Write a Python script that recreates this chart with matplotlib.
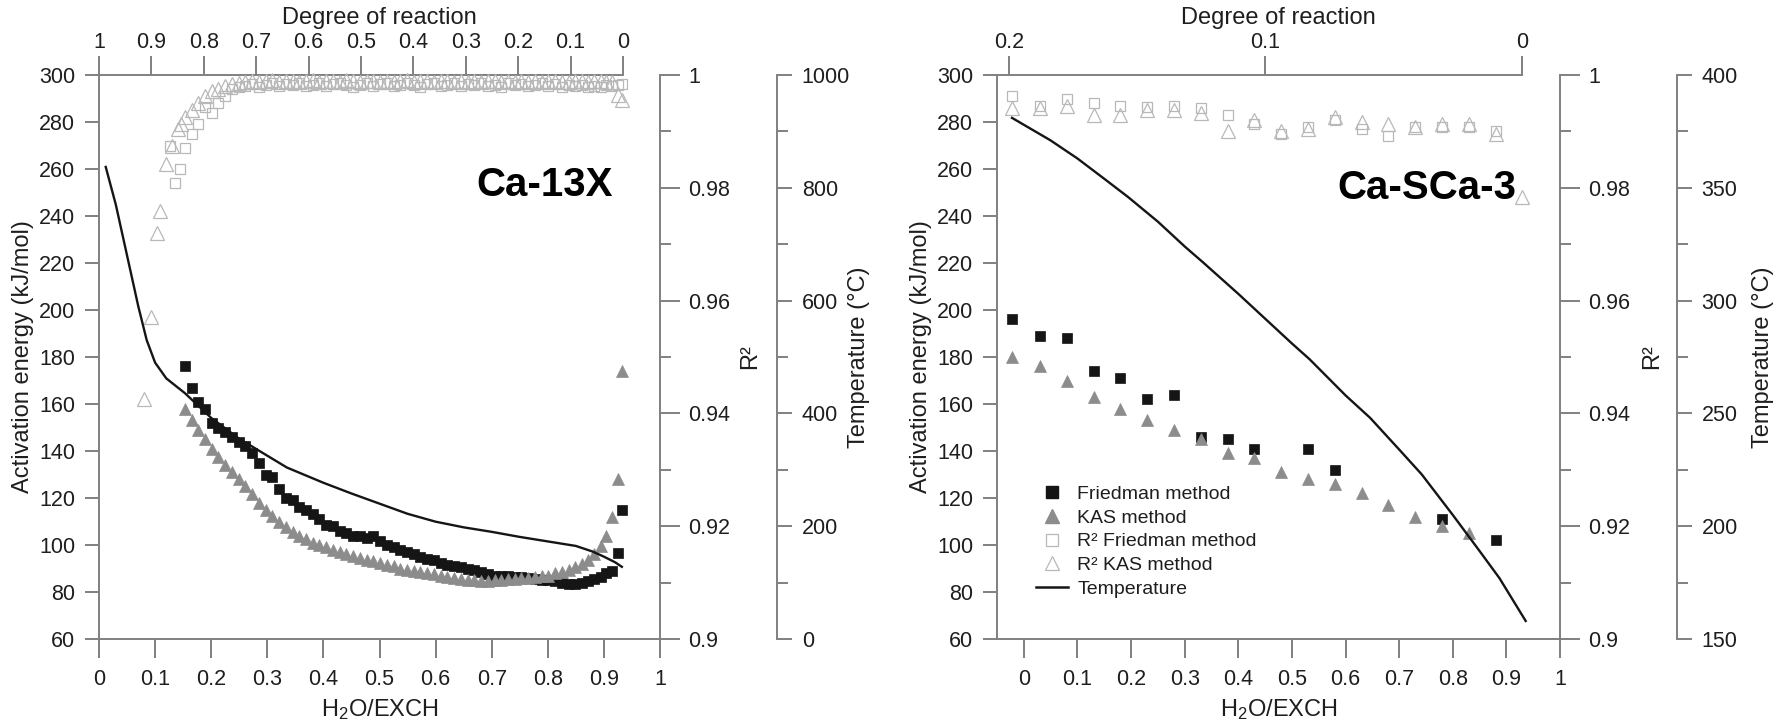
import numpy as np
import matplotlib
matplotlib.use("Agg")
import matplotlib.pyplot as plt
from matplotlib import font_manager
from matplotlib.lines import Line2D
from matplotlib.ticker import FuncFormatter

# --- fonts: the original uses a condensed Arial-like face ---
_names = {f.name for f in font_manager.fontManager.ttflist}
if "Liberation Sans Narrow" in _names:
    FONT, SCALE = "Liberation Sans Narrow", 1.15
else:
    FONT, SCALE = "Liberation Sans", 1.0
plt.rcParams["font.family"] = [FONT, "DejaVu Sans"]
plt.rcParams["mathtext.fontset"] = "custom"
plt.rcParams["mathtext.rm"] = FONT
plt.rcParams["mathtext.it"] = FONT

FS_TICK = 15.5 * SCALE
FS_LAB = 17 * SCALE
FS_YLAB = 17 * SCALE
FS_LEG = 14 * SCALE
FS_TAG = 29 * SCALE

# === Ca-13X (left panel) ===
x13 = [0.153, 0.165, 0.177, 0.189, 0.201, 0.213, 0.225, 0.237, 0.249, 0.261,
       0.273, 0.285, 0.297, 0.309, 0.321, 0.333, 0.345, 0.357, 0.369, 0.381,
       0.393, 0.405, 0.417, 0.429, 0.441, 0.453, 0.465, 0.477, 0.489, 0.501,
       0.513, 0.525, 0.537, 0.549, 0.561, 0.573, 0.585, 0.597, 0.609, 0.621,
       0.633, 0.645, 0.657, 0.669, 0.681, 0.693, 0.705, 0.717, 0.729, 0.741,
       0.753, 0.765, 0.777, 0.789, 0.801, 0.813, 0.825, 0.837, 0.849, 0.861,
       0.872, 0.883, 0.894, 0.904, 0.915, 0.926, 0.933]
fried13 = [176, 167, 161, 158, 152, 150, 148, 146, 144, 142,
           139, 135, 130, 129, 124, 120, 119, 116, 115, 113,
           111, 108.5, 108, 106, 105, 104, 104, 103, 104, 101.5,
           100, 99, 98, 97, 96, 95, 94, 93.5, 92.5, 91.5,
           91, 90.5, 90, 89.5, 88.5, 87.5, 87, 87, 87, 86.5,
           86.5, 86, 85.5, 85, 85, 84.5, 84, 83.5, 83.5, 84,
           84.5, 85.5, 86.5, 88, 89, 96.5, 115]
kas13 = [158, 153, 149, 145, 141, 137.5, 134, 131, 128, 125,
         121.5, 118, 115, 112.5, 110, 107.5, 105.5, 104, 102.5, 101,
         100, 99, 98, 97, 96, 95.5, 94.5, 93.5, 93, 92.5,
         91.5, 91, 90, 89.5, 89, 88.5, 88, 87.5, 87, 86.5,
         86, 85.5, 85, 85, 84.5, 84.5, 85, 85, 85.5, 85.5,
         86, 86, 86.5, 87, 87, 88, 88.5, 89.5, 90.5, 92,
         93.5, 96, 99.5, 104, 112, 128, 174]

r2kas13_x = [0.081, 0.092, 0.103, 0.109, 0.120, 0.130, 0.140, 0.147] + x13
r2kas13 = [0.9425, 0.9571, 0.9719, 0.9758, 0.9842, 0.9875, 0.9904, 0.9913,
           0.9925, 0.9938, 0.9950, 0.9963, 0.9971, 0.9975, 0.9981, 0.9984, 0.9986,
           0.9988, 0.9990, 0.9987, 0.9989, 0.9991, 0.9988, 0.9990, 0.9989, 0.9987, 0.9990,
           0.9991, 0.9988, 0.9989, 0.9990, 0.9988, 0.9991, 0.9989, 0.9988, 0.9990, 0.9989,
           0.9987, 0.9990, 0.9988, 0.9989, 0.9991, 0.9988, 0.9990, 0.9989, 0.9987, 0.9989,
           0.9990, 0.9988, 0.9989, 0.9987, 0.9990, 0.9988, 0.9989, 0.9990, 0.9987, 0.9989,
           0.9988, 0.9990, 0.9987, 0.9989, 0.9988, 0.9990, 0.9989, 0.9987, 0.9988, 0.9990,
           0.9989, 0.9988, 0.9990, 0.9989, 0.9987, 0.9988,
           0.9965, 0.9956]
r2fr13_x = [0.127, 0.136, 0.145] + x13
r2fr13 = [0.9875, 0.9808, 0.9833,
          0.9871, 0.9896, 0.9913, 0.9944, 0.9933, 0.9950, 0.9963, 0.9975, 0.9979,
          0.9981, 0.9984, 0.9979, 0.9983, 0.9985, 0.9980, 0.9984, 0.9982, 0.9986, 0.9981,
          0.9983, 0.9985, 0.9980, 0.9984, 0.9986, 0.9982, 0.9979, 0.9983, 0.9985, 0.9981,
          0.9984, 0.9986, 0.9980, 0.9983, 0.9985, 0.9982, 0.9979, 0.9984, 0.9986, 0.9981,
          0.9983, 0.9985, 0.9980, 0.9984, 0.9982, 0.9986, 0.9981, 0.9983, 0.9979, 0.9985,
          0.9982, 0.9984, 0.9980, 0.9983, 0.9985, 0.9981, 0.9984, 0.9979, 0.9982, 0.9980,
          0.9983, 0.9978, 0.9981, 0.9979, 0.9982, 0.9980,
          0.9982, 0.9984]

temp13_x = [0.012, 0.03, 0.05, 0.07, 0.085, 0.10, 0.12, 0.153, 0.20, 0.25, 0.30, 0.335, 0.40,
            0.45, 0.50, 0.55, 0.60, 0.65, 0.70, 0.75, 0.80, 0.85, 0.88, 0.90, 0.92, 0.932]
temp13 = [837, 770, 680, 590, 530, 490, 462, 436, 392, 355, 325, 304, 277,
          258, 240, 222, 208, 198, 190, 181, 173, 165, 155, 146, 136, 128]

# === Ca-SCa-3 (right panel) ===
nan = np.nan
xs3 = [-0.022, 0.03, 0.08, 0.13, 0.18, 0.23, 0.28, 0.33, 0.38, 0.43,
       0.48, 0.53, 0.58, 0.63, 0.68, 0.73, 0.78, 0.83, 0.88, 0.93]
fried_s3 = [196, 189, 188, 174, 171, 162, 164, 146, 145, 141,
            nan, 141, 132, nan, nan, nan, 111, nan, 102, nan]
kas_s3 = [180, 176, 170, 163, 158, 153, 149, 145, 139, 137,
          131, 128, 126, 122, 117, 112, 108, 105, nan, nan]
r2fr_s3 = [0.99625, 0.99458, 0.99583, 0.99500, 0.99458, 0.99437, 0.99458, 0.99417, 0.99292, 0.99125,
           0.98958, 0.99083, 0.99208, 0.99042, 0.98917, 0.99083, 0.99083, 0.99083, 0.99000, nan]
r2kas_s3 = [0.99417, 0.99417, 0.99458, 0.99292, 0.99292, 0.99375, 0.99375, 0.99333, 0.99000, 0.99208,
            0.99000, 0.99042, 0.99250, 0.99167, 0.99125, 0.99083, 0.99125, 0.99125, 0.98958, 0.97833]
temps3_x = [-0.022, 0.05, 0.10, 0.15, 0.194, 0.25, 0.30, 0.334, 0.40, 0.45,
            0.50, 0.533, 0.60, 0.646, 0.70, 0.742, 0.80, 0.85, 0.887, 0.936]
temps3 = [381, 371, 363, 354, 346, 335, 324, 317, 303, 292,
          281, 274, 258, 248, 234, 223, 205, 189, 177, 158]

# === styling ===
PX = 0.72            # points per pixel at dpi=100
AXC = "#808080"      # axis line grey
TXT = "#1e1e1e"
BLACK = "#151515"
KASC = "#8c8c8c"
R2C = "#b8b8b8"
LW_AX = 1.4

X_TICKS = [i / 10 for i in range(11)]
E_TICKS = list(range(60, 301, 20))
R2_MAJOR = [0.90, 0.92, 0.94, 0.96, 0.98, 1.00]
R2_MINOR = [0.91, 0.93, 0.95, 0.97, 0.99]

fmt = FuncFormatter(lambda v, _: f"{round(v, 3):g}")

fig = plt.figure(figsize=(17.82, 7.21), dpi=100)


def panel(rect, xlim, deg_lim, deg_bounds, deg_ticks, t_lim, t_major, t_minor):
    ax = fig.add_axes(rect)
    ax.set_xlim(xlim)
    ax.set_ylim(60, 300)
    ax.set_xticks(X_TICKS)
    ax.set_yticks(E_TICKS)
    ax.xaxis.set_major_formatter(fmt)
    ax.spines[["top", "right"]].set_visible(False)
    ax.spines[["left", "bottom"]].set_color(AXC)
    ax.spines[["left", "bottom"]].set_linewidth(LW_AX)
    ax.tick_params(axis="x", length=19 * PX, width=LW_AX, color=AXC, pad=8,
                   labelsize=FS_TICK, labelcolor=TXT)
    ax.tick_params(axis="y", length=14 * PX, width=LW_AX, color=AXC, pad=7,
                   labelsize=FS_TICK, labelcolor=TXT)
    ax.set_xlabel("H$_2$O/EXCH", fontsize=FS_LAB, color=TXT, labelpad=5)

    # degree of reaction axis on top
    top = ax.twiny()
    top.set_xlim(deg_lim)
    top.spines[["left", "right", "bottom"]].set_visible(False)
    top.spines["top"].set_bounds(*deg_bounds)
    top.spines["top"].set_color(AXC)
    top.spines["top"].set_linewidth(LW_AX)
    top.set_xticks(deg_ticks)
    top.xaxis.set_major_formatter(fmt)
    top.tick_params(axis="x", length=19 * PX, width=LW_AX, color=AXC, pad=2,
                    labelsize=FS_TICK, labelcolor=TXT)
    top.set_xlabel("Degree of reaction", fontsize=FS_LAB, color=TXT, labelpad=6)

    # R^2 axis
    r2 = ax.twinx()
    r2.set_ylim(0.9, 1.0)
    r2.spines[["left", "top", "bottom"]].set_visible(False)
    r2.spines["right"].set_color(AXC)
    r2.spines["right"].set_linewidth(LW_AX)
    r2.set_yticks(R2_MAJOR)
    r2.set_yticks(R2_MINOR, minor=True)
    r2.yaxis.set_major_formatter(fmt)
    r2.tick_params(axis="y", which="major", length=20 * PX, width=LW_AX, color=AXC,
                   pad=6, labelsize=FS_TICK, labelcolor=TXT)
    r2.tick_params(axis="y", which="minor", length=11 * PX, width=LW_AX, color=AXC)

    # temperature axis
    tax = ax.twinx()
    tax.set_ylim(t_lim)
    tax.spines[["left", "top", "bottom"]].set_visible(False)
    tax.spines["right"].set_position(("outward", 117 * PX))
    tax.spines["right"].set_color(AXC)
    tax.spines["right"].set_linewidth(LW_AX)
    tax.set_yticks(t_major)
    tax.set_yticks(t_minor, minor=True)
    tax.tick_params(axis="y", which="major", length=15 * PX, width=LW_AX, color=AXC,
                    pad=7, labelsize=FS_TICK, labelcolor=TXT)
    tax.tick_params(axis="y", which="minor", length=11 * PX, width=LW_AX, color=AXC)

    return ax, r2, tax


def side_labels(ax, xe, xr, xt):
    kw = dict(transform=ax.transAxes, rotation=90, ha="center", va="center",
              fontsize=FS_YLAB, color=TXT)
    ax.text(xe, 0.5, "Activation energy (kJ/mol)", **kw)
    ax.text(xr, 0.5, "R²", **kw)
    ax.text(xt, 0.5, "Temperature (°C)", **kw)


def draw(ax, r2, tax, x, fr, kas, r2fx, r2f, r2kx, r2k, tx, t):
    ax.plot(x, fr, ls="none", marker="s", ms=7.4, mfc=BLACK, mec=BLACK, mew=0.5)
    ax.plot(x, kas, ls="none", marker="^", ms=8.8, mfc=KASC, mec=KASC, mew=0.5)
    r2.plot(r2fx, r2f, ls="none", marker="s", ms=7, mfc="none", mec=R2C, mew=0.9,
            clip_on=False)
    r2.plot(r2kx, r2k, ls="none", marker="^", ms=9.5, mfc="none", mec=R2C, mew=0.9,
            clip_on=False)
    tax.plot(tx, t, color=BLACK, lw=1.7)


# left panel: Ca-13X
axL, r2L, tL = panel([99 / 1782, 82 / 721, 561 / 1782, 564 / 721], (0, 1),
                     (1, 1 - 1 / 0.934), (0, 1), X_TICKS,
                     (0, 1000), list(range(0, 1001, 200)), list(range(100, 1000, 200)))
draw(axL, r2L, tL, x13, fried13, kas13, r2fr13_x, r2fr13, r2kas13_x, r2kas13,
     temp13_x, temp13)
axL.text(0.795, 253, "Ca-13X", fontsize=FS_TAG, fontweight="bold", ha="center",
         va="center", color="black")
side_labels(axL, -0.135, 1.16, 1.355)

# right panel: Ca-SCa-3
d_left = 0.2 * (0.929 + 0.05) / 0.957
d_right = 0.2 * (0.929 - 1.0) / 0.957
axR, r2R, tR = panel([997 / 1782, 82 / 721, 563 / 1782, 564 / 721], (-0.05, 1.0),
                     (d_left, d_right), (0, d_left), [0, 0.1, 0.2],
                     (150, 400), list(range(150, 401, 50)), list(range(175, 400, 50)))
draw(axR, r2R, tR, xs3, fried_s3, kas_s3, xs3, r2fr_s3, xs3, r2kas_s3,
     temps3_x, temps3)
axR.text(0.752, 252, "Ca-SCa-3", fontsize=FS_TAG, fontweight="bold", ha="center",
         va="center", color="black")
side_labels(axR, -0.135, 1.163, 1.36)

handles = [
    Line2D([], [], ls="none", marker="s", ms=9, mfc=BLACK, mec=BLACK),
    Line2D([], [], ls="none", marker="^", ms=10.5, mfc=KASC, mec=KASC),
    Line2D([], [], ls="none", marker="s", ms=9, mfc="none", mec=R2C, mew=0.9),
    Line2D([], [], ls="none", marker="^", ms=10.5, mfc="none", mec=R2C, mew=0.9),
    Line2D([], [], color=BLACK, lw=1.8),
]
labels = ["Friedman method", "KAS method", "R² Friedman method", "R² KAS method",
          "Temperature"]
tR.legend(handles, labels, loc="upper left", bbox_to_anchor=(0.07, 0.272),
          frameon=False, fontsize=FS_LEG, handlelength=1.6, handletextpad=0.5,
          labelspacing=0.31, borderpad=0, borderaxespad=0, labelcolor=TXT)

fig.savefig("out.png", dpi=100)
